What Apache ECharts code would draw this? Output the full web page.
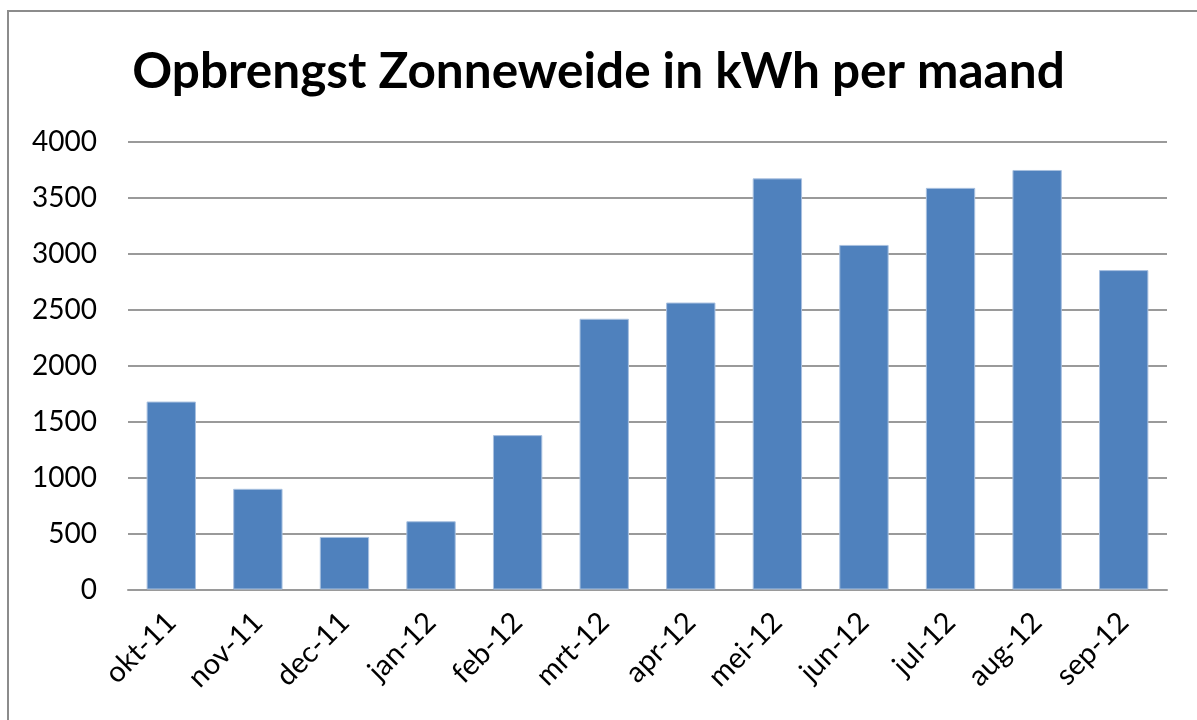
<!DOCTYPE html>
<html>
<head>
<meta charset="utf-8">
<script src="https://cdn.jsdelivr.net/npm/echarts@6/dist/echarts.min.js"></script>
<style>
  html, body { margin: 0; padding: 0; background: #fff; }
  #chart { width: 1197px; height: 720px; }
</style>
</head>
<body>
<div id="chart"></div>
<script>
// maanden en opbrengst (kWh)
var months = ['okt-11', 'nov-11', 'dec-11', 'jan-12', 'feb-12', 'mrt-12',
  'apr-12', 'mei-12', 'jun-12', 'jul-12', 'aug-12', 'sep-12'];
var opbrengst = [1680, 900, 470, 610, 1380, 2420, 2565, 3675, 3080, 3590, 3750, 2855];
var yTicks = { min: 0, max: 4000, interval: 500 };

var chart = echarts.init(document.getElementById('chart'));
chart.setOption({
  animation: false,
  textStyle: { fontFamily: 'Lato' },
  title: {
    text: 'Opbrengst Zonneweide in kWh per maand',
    left: 'center',
    top: 42,
    textStyle: { fontFamily: 'Lato', fontWeight: 'bold', fontSize: 49.5, color: '#000' }
  },
  graphic: [{
    type: 'rect',
    shape: { x: 8, y: 11, width: 1300, height: 800 },
    style: { fill: 'none', stroke: '#8c8c8c', lineWidth: 2 }
  }],
  grid: { left: 128, right: 30, top: 142, bottom: 130.5 },
  xAxis: {
    type: 'category',
    data: months,
    axisLine: { lineStyle: { color: '#9a9a9a', width: 2 } },
    axisTick: { show: false },
    axisLabel: { rotate: 45, fontSize: 29, color: '#000', margin: 28, interval: 0 }
  },
  yAxis: {
    type: 'value',
    min: yTicks.min,
    max: yTicks.max,
    interval: yTicks.interval,
    axisLine: { show: false },
    axisTick: { show: false },
    axisLabel: { fontSize: 28, color: '#000', margin: 31, formatter: function (v) { return String(v); } },
    splitLine: { lineStyle: { color: '#9a9a9a', width: 2 } }
  },
  series: [{
    type: 'bar',
    data: opbrengst,
    barWidth: '57%',
    itemStyle: { color: '#4f81bd', borderColor: '#a9c1e0', borderWidth: 1 }
  }]
});
</script>
</body>
</html>
